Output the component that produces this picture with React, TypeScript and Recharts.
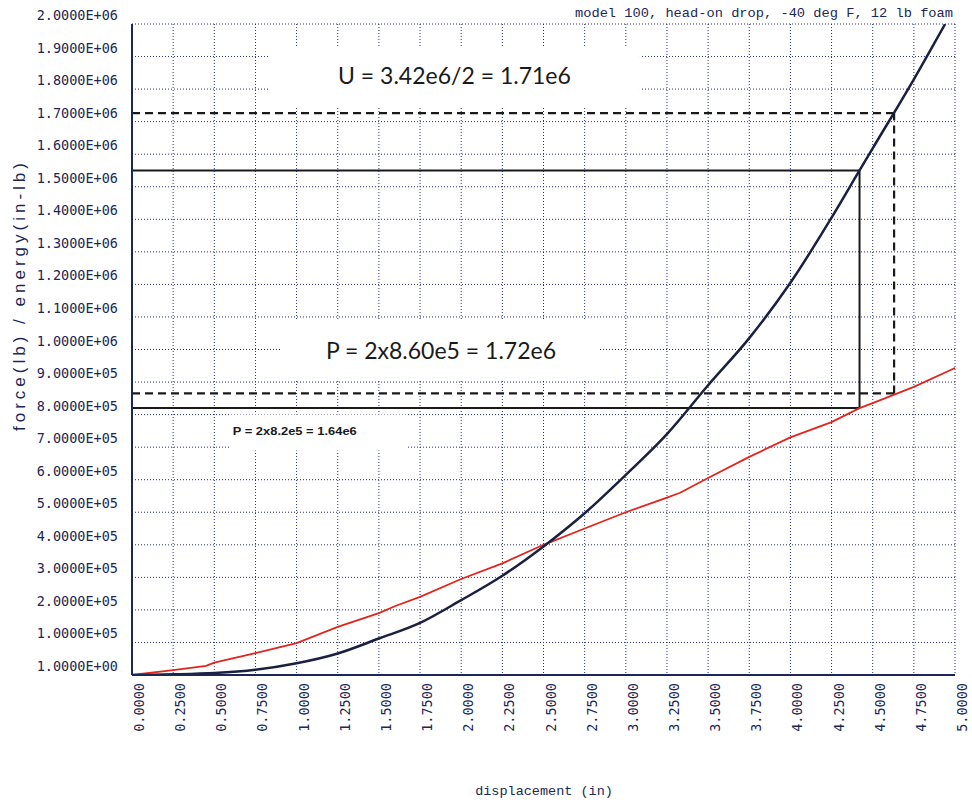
import {
  LineChart,
  Line,
  XAxis,
  YAxis,
  CartesianGrid,
  ReferenceLine,
  ReferenceArea,
} from "recharts";

// displacement ticks (in) and force/energy ticks
const xTicks = [0, 0.25, 0.5, 0.75, 1, 1.25, 1.5, 1.75, 2, 2.25, 2.5, 2.75, 3, 3.25, 3.5, 3.75, 4, 4.25, 4.5, 4.75, 5];
const yTicks = [
  0, 100000, 200000, 300000, 400000, 500000, 600000, 700000, 800000, 900000, 1000000,
  1100000, 1200000, 1300000, 1400000, 1500000, 1600000, 1700000, 1800000, 1900000, 2000000,
];

// energy (in-lb) vs displacement - dark curve
const energyX = [0, 0.25, 0.5, 0.75, 1, 1.25, 1.5, 1.75, 2, 2.25, 2.5, 2.75, 3, 3.25, 3.5, 3.75, 4, 4.25, 4.42, 4.5, 4.75, 4.94];
const energyY = [
  0, 2000, 6000, 16000, 36000, 66000, 112000, 160000, 230000, 305000, 395000, 497000,
  615000, 740000, 890000, 1035000, 1205000, 1405000, 1550000, 1618000, 1830000, 2000000,
];

// force (lb) vs displacement - red curve
const forceX = [0, 0.25, 0.45, 0.5, 0.75, 1, 1.25, 1.5, 1.6, 1.75, 2, 2.25, 2.5, 2.75, 3, 3.25, 3.33, 3.5, 3.75, 4, 4.25, 4.42, 4.5, 4.75, 5];
const forceY = [
  0, 15000, 28000, 38000, 67000, 98000, 148000, 190000, 212000, 240000, 295000, 343000,
  400000, 450000, 500000, 545000, 560000, 605000, 670000, 730000, 777000, 820000, 835000, 885000, 943000,
];

// construction lines
const solidX = 4.42;
const solidTop = 1550000;
const solidBottom = 820000;
const dashedX = 4.63;
const dashedTop = 1726000;
const dashedBottom = 865000;

const title = "model 100, head-on drop, -40 deg F, 12 lb foam";
const noteU = "U = 3.42e6/2 = 1.71e6";
const noteP = "P = 2x8.60e5 = 1.72e6";
const noteSmall = "P = 2x8.2e5 = 1.64e6";

const energyData = energyX.map((x, i) => ({ x, v: energyY[i] }));
const forceData = forceX.map((x, i) => ({ x, v: forceY[i] }));

const NAVY = "#1c2757";

const fmtY = (v: number) => {
  if (v === 0) return "1.0000E+00";
  const [m, e] = v.toExponential(4).split("e");
  const n = Number(e);
  return `${m}E${n < 0 ? "-" : "+"}${String(Math.abs(n)).padStart(2, "0")}`;
};

const XTick = ({ x, y, payload }: any) => (
  <text
    transform={`translate(${x + 12},${y}) rotate(-90)`}
    textAnchor="end"
    fontFamily="DejaVu Sans Mono"
    fontSize={13.5}
    fill={NAVY}
  >
    {Number(payload.value).toFixed(4)}
  </text>
);

const YTick = ({ x, y, payload }: any) => (
  <text x={x} y={y - 4} textAnchor="end" fontFamily="DejaVu Sans Mono" fontSize={13.5} fill={NAVY}>
    {fmtY(payload.value)}
  </text>
);

const centerLabel = (text: string, size: number, dy = 0) => (props: any) => {
  const { x, y, width, height } = props.viewBox;
  return (
    <text
      x={x + width / 2}
      y={y + height / 2 + dy}
      textAnchor="middle"
      dominantBaseline="central"
      fontFamily="Lato"
      fontSize={size}
      fill="#1a1a1a"
    >
      {text}
    </text>
  );
};

const smallLabel = (text: string) => (props: any) => {
  const { x, y } = props.viewBox;
  return (
    <text
      x={x + 2}
      y={y + 20}
      fontFamily="Liberation Sans"
      fontWeight={700}
      fontSize={10}
      fill="#1a1a1a"
      textLength={124}
      lengthAdjust="spacingAndGlyphs"
    >
      {text}
    </text>
  );
};

export default function App() {
  return (
    <div style={{ position: "absolute", left: 0, top: 0, width: 972, height: 803, background: "#fff" }}>
      <LineChart width={972} height={803} margin={{ top: 24, right: 17, left: 0, bottom: 0 }}>
        <CartesianGrid stroke="#24307e" strokeDasharray="1 2" strokeWidth={1} />
        <XAxis
          dataKey="x"
          type="number"
          domain={[0, 5]}
          ticks={xTicks}
          height={128}
          tickSize={0}
          tickMargin={8}
          tick={<XTick />}
          axisLine={{ stroke: NAVY, strokeWidth: 2 }}
          allowDuplicatedCategory={false}
        />
        <YAxis
          type="number"
          domain={[0, 2000000]}
          ticks={yTicks}
          width={132}
          tickSize={0}
          tickMargin={14}
          tick={<YTick />}
          axisLine={{ stroke: NAVY, strokeWidth: 2 }}
          allowDataOverflow
        />
        <ReferenceArea x1={0.832} x2={3.086} y1={1745000} y2={1926000} fill="#fff" fillOpacity={1} stroke="none" label={centerLabel(noteU, 23, -3)} />
        <ReferenceArea x1={0.911} x2={2.843} y1={906000} y2={1091000} fill="#fff" fillOpacity={1} stroke="none" label={centerLabel(noteP, 23, 0)} />
        <ReferenceArea x1={0.6} x2={1.671} y1={690000} y2={800000} fill="#fff" fillOpacity={1} stroke="none" label={smallLabel(noteSmall)} />

        <ReferenceLine segment={[{ x: 0, y: solidTop }, { x: solidX, y: solidTop }]} stroke="#1a1a1a" strokeWidth={2} />
        <ReferenceLine segment={[{ x: solidX, y: solidBottom }, { x: solidX, y: solidTop }]} stroke="#1a1a1a" strokeWidth={2} />
        <ReferenceLine segment={[{ x: 0, y: solidBottom }, { x: solidX, y: solidBottom }]} stroke="#1a1a1a" strokeWidth={2} />
        <ReferenceLine segment={[{ x: 0, y: dashedTop }, { x: dashedX, y: dashedTop }]} stroke="#1a1a1a" strokeWidth={2.2} strokeDasharray="8 5" />
        <ReferenceLine segment={[{ x: dashedX, y: dashedBottom }, { x: dashedX, y: dashedTop }]} stroke="#1a1a1a" strokeWidth={2.2} strokeDasharray="8 5" />
        <ReferenceLine segment={[{ x: 0, y: dashedBottom }, { x: dashedX, y: dashedBottom }]} stroke="#1a1a1a" strokeWidth={2.2} strokeDasharray="8 5" />

        <Line data={forceData} dataKey="v" type="linear" stroke="#e0261c" strokeWidth={1.8} dot={false} isAnimationActive={false} />
        <Line data={energyData} dataKey="v" type="monotone" stroke="#1b2040" strokeWidth={2.5} dot={false} isAnimationActive={false} />

        <text x={953} y={17} textAnchor="end" fontFamily="Liberation Mono" fontSize={13} fill={NAVY} textLength={378} lengthAdjust="spacingAndGlyphs">
          {title}
        </text>
        <text
          transform="translate(25,297) rotate(-90)"
          textAnchor="middle"
          fontFamily="Liberation Sans"
          fontSize={17}
          fill={NAVY}
          textLength={268}
          lengthAdjust="spacing"
        >
          force(lb) / energy(in-lb)
        </text>
        <text x={544} y={795} textAnchor="middle" fontFamily="Liberation Mono" fontSize={13.5} fill={NAVY}>
          displacement (in)
        </text>
      </LineChart>
    </div>
  );
}
